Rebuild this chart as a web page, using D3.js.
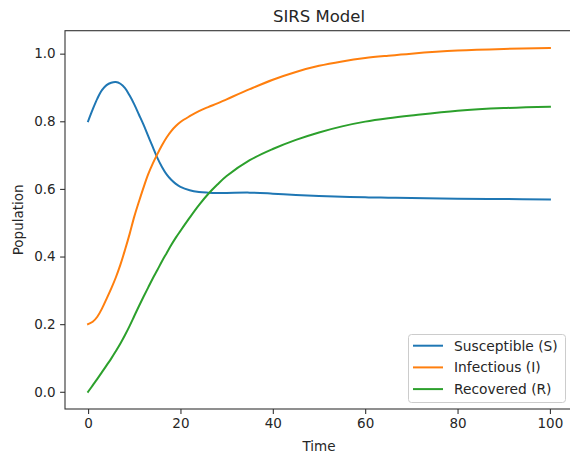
<!DOCTYPE html>
<html>
<head>
<meta charset="utf-8">
<script src="https://cdn.jsdelivr.net/npm/d3@7"></script>
<style>
  html, body { margin: 0; padding: 0; background: #fff; }
  svg { display: block; font-family: "DejaVu Sans", sans-serif; }
</style>
</head>
<body>
<svg id="chart" width="570" height="458"></svg>
<script>
const times = [0, 1, 2, 3, 4, 5, 6, 7, 8, 9, 10, 11, 12, 13, 14, 15, 16, 17, 18, 19, 20, 22, 24, 26, 28, 30, 35, 40, 45, 50, 55, 60, 65, 70, 80, 90, 100];
const susceptible = [0.80, 0.835, 0.867, 0.892, 0.907, 0.914, 0.916, 0.911, 0.898, 0.876, 0.850, 0.820, 0.790, 0.757, 0.724, 0.692, 0.665, 0.643, 0.627, 0.615, 0.606,
  0.596, 0.591, 0.589, 0.588, 0.588, 0.589, 0.586, 0.582, 0.579, 0.577, 0.575, 0.574, 0.573, 0.571, 0.570, 0.569];
const infectious = [0.20, 0.207, 0.222, 0.246, 0.275, 0.305, 0.338, 0.376, 0.420, 0.467, 0.518, 0.562, 0.604, 0.643, 0.675, 0.703, 0.729, 0.752, 0.771, 0.786, 0.798,
  0.815, 0.830, 0.842, 0.853, 0.865, 0.895, 0.923, 0.946, 0.964, 0.977, 0.987, 0.994, 1.000, 1.009, 1.014, 1.017];
const recovered = [0.0, 0.019, 0.038, 0.058, 0.078, 0.098, 0.120, 0.143, 0.168, 0.195, 0.224, 0.253, 0.281, 0.308, 0.335, 0.360, 0.386, 0.410, 0.434, 0.456, 0.476,
  0.515, 0.552, 0.585, 0.613, 0.638, 0.685, 0.718, 0.745, 0.767, 0.785, 0.799, 0.809, 0.817, 0.831, 0.839, 0.843];
const seriesNames = ["Susceptible (S)", "Infectious (I)", "Recovered (R)"];
const seriesColors = ["#1f77b4", "#ff7f0e", "#2ca02c"];
const xTicks = [0, 20, 40, 60, 80, 100];
const yTicks = [0.0, 0.2, 0.4, 0.6, 0.8, 1.0];
const titleText = "SIRS Model";
const xLabel = "Time";
const yLabel = "Population";

const W = 570, H = 458;
const plot = { left: 65, right: 573, top: 30.7, bottom: 409 };

const svg = d3.select("#chart");
svg.append("rect").attr("width", W).attr("height", H).attr("fill", "#fff");

const x = d3.scaleLinear().domain([-5, 105]).range([plot.left, plot.right]);
const y = d3.scaleLinear().domain([-0.0509, 1.0679]).range([plot.bottom, plot.top]);

svg.append("defs").append("clipPath").attr("id", "clip")
  .append("rect").attr("x", plot.left).attr("y", plot.top)
  .attr("width", plot.right - plot.left).attr("height", plot.bottom - plot.top);

const seriesData = [susceptible, infectious, recovered];
const line = d3.line()
  .x(d => x(d[0]))
  .y(d => y(d[1]))
  .curve(d3.curveCatmullRom.alpha(0.5));

const g = svg.append("g").attr("clip-path", "url(#clip)");
seriesData.forEach((vals, i) => {
  g.append("path")
    .datum(times.map((t, k) => [t, vals[k]]))
    .attr("fill", "none")
    .attr("stroke", seriesColors[i])
    .attr("stroke-width", 2)
    .attr("stroke-linejoin", "round")
    .attr("stroke-linecap", "square")
    .attr("d", line);
});

// Axes
const xAxis = d3.axisBottom(x).tickValues(xTicks).tickFormat(d3.format("d")).tickSize(4.9).tickPadding(4.5);
const yAxis = d3.axisLeft(y).tickValues(yTicks).tickFormat(d3.format(".1f")).tickSize(4.9).tickPadding(4.5);

const gx = svg.append("g").attr("transform", `translate(0,${plot.bottom})`).call(xAxis);
const gy = svg.append("g").attr("transform", `translate(${plot.left},0)`).call(yAxis);
[gx, gy].forEach(a => {
  a.select(".domain").remove();
  a.selectAll(".tick line").attr("stroke", "#333").attr("stroke-width", 1.1);
  a.selectAll(".tick text").attr("fill", "#262626").style("font-size", "13.5px").style("font-family", "DejaVu Sans");
});

// Spines
const spine = svg.append("g").attr("stroke", "#333").attr("stroke-width", 1.1).attr("fill", "none");
spine.append("rect").attr("x", plot.left).attr("y", plot.top)
  .attr("width", plot.right - plot.left).attr("height", plot.bottom - plot.top);

// Title & labels
svg.append("text").attr("x", (plot.left + plot.right) / 2).attr("y", 22)
  .attr("text-anchor", "middle").attr("fill", "#262626").style("font-size", "16.5px").text(titleText);
svg.append("text").attr("x", (plot.left + plot.right) / 2).attr("y", 450.5)
  .attr("text-anchor", "middle").attr("fill", "#262626").style("font-size", "13.5px").text(xLabel);
svg.append("text").attr("transform", `translate(22.5,${(plot.top + plot.bottom) / 2}) rotate(-90)`)
  .attr("text-anchor", "middle").attr("fill", "#262626").style("font-size", "13.5px").text(yLabel);

// Legend
const lg = svg.append("g");
lg.append("rect").attr("x", 408.5).attr("y", 334.5).attr("width", 157).attr("height", 68)
  .attr("rx", 3).attr("fill", "#fff").attr("fill-opacity", 0.8)
  .attr("stroke", "#cccccc").attr("stroke-width", 1);
seriesNames.forEach((name, i) => {
  const yy = 345.7 + i * 21.7;
  lg.append("line").attr("x1", 413).attr("x2", 443).attr("y1", yy).attr("y2", yy)
    .attr("stroke", seriesColors[i]).attr("stroke-width", 2);
  lg.append("text").attr("x", 454).attr("y", yy).attr("dy", "0.36em")
    .attr("fill", "#262626").style("font-size", "13.8px").text(name);
});
</script>
</body>
</html>
